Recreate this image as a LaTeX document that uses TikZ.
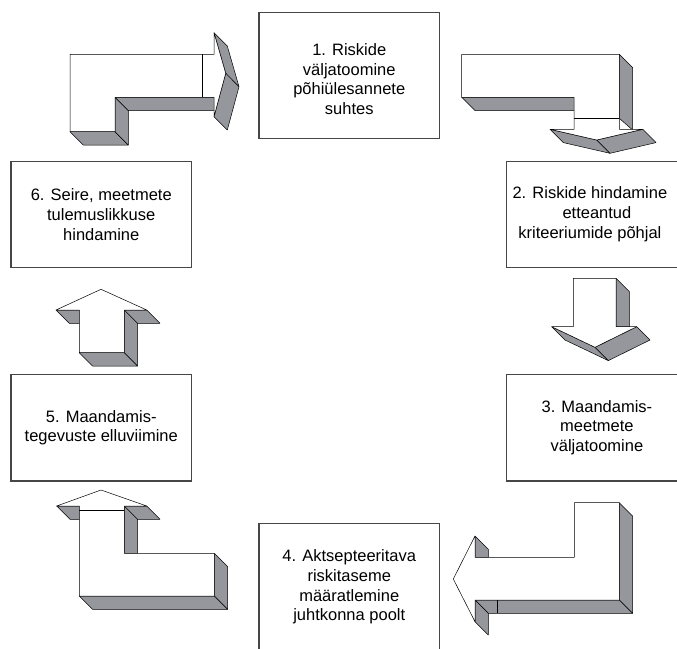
\documentclass[tikz,border=0pt]{standalone}
\usepackage{fontspec}
\setmainfont{Liberation Sans}
\usetikzlibrary{positioning}
\definecolor{sidegray}{RGB}{150,151,156}
\definecolor{boxline}{RGB}{70,70,70}

\begin{document}
\begin{tikzpicture}[x=1pt, y=-1pt,
      every node/.style={font=\fontsize{16.5}{19.7}\selectfont, align=center, inner sep=2pt},
      stage/.style={draw=boxline, line width=1.1pt, minimum width=180.5pt},
      side/.style={fill=sidegray, draw=black, line width=0.5pt, line join=round},
      front/.style={fill=white, draw=black, line width=0.5pt, line join=round},
  ]
    \useasboundingbox (0,0) rectangle (677,648);

    %% --- six stages, clockwise from the top ---
    \node[stage, minimum height=126pt]   (ident)   at (349.25,75.3)  {\mbox{}\\1. Riskide\\väljatoomine\\põhiülesannete\\suhtes};
    \node[stage, minimum height=106.3pt] (assess)  at (596.9,214.2)  {2. Riskide hindamine\hspace*{14pt}\\etteantud\hspace*{14pt}\\kriteeriumide põhjal\hspace*{14pt}};
    \node[stage, minimum height=106.7pt] (measure) at (596.9,427.65) {3. Maandamis-\\meetmete\\väljatoomine};
    \node[stage, minimum height=127.4pt] (accept)  at (349.25,587)   {4. Aktsepteeritava\\riskitaseme\\määratlemine\\juhtkonna poolt};
    \node[stage, minimum height=106.7pt] (apply)   at (101.25,427.65) {5. Maandamis-\\tegevuste elluviimine};
    \node[stage, minimum height=105.6pt] (monitor) at (101.25,214.5) {6. Seire, meetmete\\tulemuslikkuse\\hindamine};

    %% --- 6 -> 1: L-shaped arrow pointing right ---
    \draw[side] (70,131.7) -- (115,131.7) -- (128.3,145) -- (83.3,145) -- cycle;
    \draw[side] (115,97.3) -- (128.3,110.6) -- (128.3,145) -- (115,131.7) -- cycle;
    \draw[side] (115,97.3) -- (214,97.3) -- (227.3,110.6) -- (128.3,110.6) -- cycle;
    \draw[side] (214,32.7) -- (227.3,46) -- (239,86.7) -- (225.7,73.3) -- cycle;
    \draw[side] (225.7,73.3) -- (239,86.7) -- (227.3,130) -- (214,116.7) -- cycle;
    \draw[front] (70,131.7) -- (70,54.3) -- (214,54.3) -- (214,32.7) -- (225.7,73.3)
      -- (214,116.7) -- (214,97.3) -- (115,97.3) -- (115,131.7) -- cycle;
    \draw[line width=0.5pt] (202.7,54.3) -- (202.7,97.3);

    %% --- 1 -> 2: L-shaped arrow pointing down ---
    \draw[side] (461.7,97.3) -- (574,97.3) -- (587.3,110.6) -- (475,110.6) -- cycle;
    \draw[side] (619.3,54.3) -- (632.6,67.6) -- (632.6,130) -- (619.3,118.3) -- cycle;
    \draw[side] (550,129.3) -- (596.7,140) -- (610,153.3) -- (563.3,142.6) -- cycle;
    \draw[side] (596.7,140) -- (642.7,129.3) -- (656,142.6) -- (610,153.3) -- cycle;
    \draw[front] (461.7,54.3) -- (619.3,54.3) -- (619.3,129.3) -- (642.7,129.3) -- (596.7,140)
      -- (550,129.3) -- (574,129.3) -- (574,97.3) -- (461.7,97.3) -- cycle;
    \draw[line width=0.5pt] (574,118.3) -- (619.3,118.3);

    %% --- 2 -> 3: straight arrow down ---
    \draw[side] (616,278.3) -- (629.3,291.6) -- (629.3,326.7) -- (616,326.7) -- cycle;
    \draw[side] (551.7,326.7) -- (595,347.3) -- (608.3,360.6) -- (565,340) -- cycle;
    \draw[side] (595,347.3) -- (636.7,326.7) -- (650,340) -- (608.3,360.6) -- cycle;
    \draw[front] (573.3,278.3) -- (616,278.3) -- (616,326.7) -- (636.7,326.7) -- (595,347.3)
      -- (551.7,326.7) -- (573.3,326.7) -- cycle;

    %% --- 3 -> 4: L-shaped arrow pointing left ---
    \draw[side] (619.3,502.7) -- (632.6,516) -- (632.6,613.3) -- (619.3,600) -- cycle;
    \draw[side] (475,600) -- (619.3,600) -- (632.6,613.3) -- (488.3,613.3) -- cycle;
    \draw[side] (475,536) -- (488.3,549.3) -- (488.3,557.3) -- (475,557.3) -- cycle;
    \draw[side] (475,600) -- (488.3,613.3) -- (488.3,635) -- (475,621.7) -- cycle;
    \draw[front] (574.3,502.7) -- (619.3,502.7) -- (619.3,600) -- (475,600) -- (475,621.7)
      -- (453.3,579) -- (475,536) -- (475,557.3) -- (574.3,557.3) -- cycle;
    \draw[line width=1.2pt] (497.3,600) -- (497.3,613.3);

    %% --- 4 -> 5: L-shaped arrow pointing up ---
    \draw[side] (56.7,506) -- (146.7,506) -- (160,519.3) -- (70,519.3) -- cycle;
    \draw[side] (124.3,506) -- (137.6,519.3) -- (137.6,553.3) -- (124.3,553.3) -- cycle;
    \draw[side] (214.3,553.3) -- (227.6,566.6) -- (227.6,609.3) -- (214.3,596) -- cycle;
    \draw[side] (79.3,596) -- (214.3,596) -- (227.6,609.3) -- (92.6,609.3) -- cycle;
    \draw[front] (79.3,596) -- (79.3,506) -- (56.7,506) -- (101,490) -- (146.7,506)
      -- (124.3,506) -- (124.3,553.3) -- (214.3,553.3) -- (214.3,596) -- cycle;
    \draw[line width=0.5pt] (79.3,510.7) -- (124.3,510.7);

    %% --- 5 -> 6: straight arrow up ---
    \draw[side] (56,310) -- (146.7,310) -- (160,323.3) -- (69.3,323.3) -- cycle;
    \draw[side] (124.3,310) -- (137.6,323.3) -- (137.6,366) -- (124.3,352.7) -- cycle;
    \draw[side] (79.3,352.7) -- (124.3,352.7) -- (137.6,366) -- (92.6,366) -- cycle;
    \draw[front] (79.3,352.7) -- (79.3,310) -- (56,310) -- (101,289.3) -- (146.7,310)
      -- (124.3,310) -- (124.3,352.7) -- cycle;
  \end{tikzpicture}
\end{document}
